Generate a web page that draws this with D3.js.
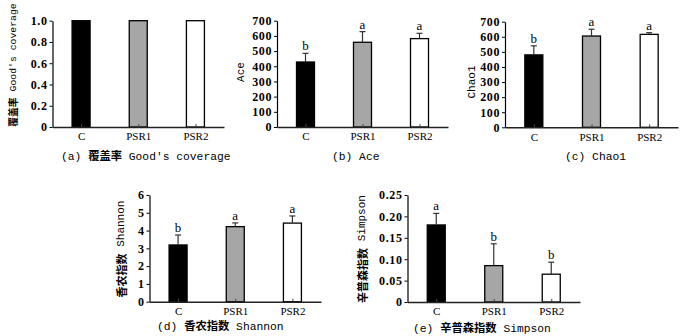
<!DOCTYPE html>
<html><head><meta charset="utf-8">
<script src="https://cdn.jsdelivr.net/npm/d3@7"></script>
<style>
html,body{margin:0;padding:0;background:#fff;}
svg{display:block;}
text{fill:#000;}
</style></head>
<body>
<svg id="chart" width="700" height="336"></svg>
<script>
const categories = ["C", "PSR1", "PSR2"];
const fills = ["#000000", "#a6a6a6", "#ffffff"];

const coverage = [1.0, 1.0, 1.0];
const coverageErr = [0, 0, 0];
const coverageTicks = [0, 0.2, 0.4, 0.6, 0.8, 1.0];

const ace = [428, 558, 582];
const aceErr = [57, 70, 35];
const aceLetters = ["b", "a", "a"];
const aceTicks = [0, 100, 200, 300, 400, 500, 600, 700];

const chao1 = [480, 605, 616];
const chao1Err = [60, 45, 11];
const chao1Letters = ["b", "a", "a"];
const chao1Ticks = [0, 100, 200, 300, 400, 500, 600, 700];

const shannon = [3.19, 4.22, 4.42];
const shannonErr = [0.56, 0.21, 0.40];
const shannonLetters = ["b", "a", "a"];
const shannonTicks = [0, 1, 2, 3, 4, 5, 6];

const simpson = [0.180, 0.085, 0.065];
const simpsonErr = [0.027, 0.051, 0.028];
const simpsonLetters = ["a", "b", "b"];
const simpsonTicks = [0, 0.05, 0.10, 0.15, 0.20, 0.25];

const panels = [
  {values: coverage, errs: coverageErr, letters: null, ticks: coverageTicks, fmt: d => d === 0 ? "0" : d3.format(".1f")(d),
   x0: 52.5, x1: 224, yTop: 20.7, yBase: 127, ytitle: "覆盖率 Good's coverage", ytx: 13, yty: 65, ytSize: 9.8,
   caption: "(a) 覆盖率 Good's coverage", cx0: 61, cy: 160},
  {values: ace, errs: aceErr, letters: aceLetters, ticks: aceTicks, fmt: d => String(d),
   x0: 277, x1: 448, yTop: 20.7, yBase: 127, ytitle: "Ace", ytx: 241, yty: 72, ytSize: 11,
   caption: "(b) Ace", cx0: 332, cy: 160},
  {values: chao1, errs: chao1Err, letters: chao1Letters, ticks: chao1Ticks, fmt: d => String(d),
   x0: 505, x1: 678, yTop: 21.7, yBase: 127.3, ytitle: "Chao1", ytx: 472, yty: 82, ytSize: 11,
   caption: "(c) Chao1", cx0: 565, cy: 160},
  {values: shannon, errs: shannonErr, letters: shannonLetters, ticks: shannonTicks, fmt: d => String(d),
   x0: 149.5, x1: 321, yTop: 195, yBase: 301.7, ytitle: "香农指数 Shannon", ytx: 121, yty: 249, ytSize: 11,
   caption: "(d) 香农指数 Shannon", cx0: 157, cy: 330},
  {values: simpson, errs: simpsonErr, letters: simpsonLetters, ticks: simpsonTicks, fmt: d => d === 0 ? "0" : d3.format(".2f")(d),
   x0: 407.5, x1: 580, yTop: 195, yBase: 302, ytitle: "辛普森指数 Simpson", ytx: 362, yty: 249, ytSize: 11,
   caption: "(e) 辛普森指数 Simpson", cx0: 413, cy: 332}
];

const svg = d3.select("#chart");
const barW = 18;
const MONO = "'Liberation Mono', 'DejaVu Sans Mono', monospace";
const CJK = "'Noto Sans CJK SC', sans-serif";
const SERIF = "'Liberation Serif', serif";

function mixedText(sel, str) {
  const parts = str.match(/[\u3400-\u9fff]+|[^\u3400-\u9fff]+/g);
  parts.forEach(s => {
    const isCjk = /[\u3400-\u9fff]/.test(s);
    sel.append("tspan")
      .attr("font-family", isCjk ? CJK : MONO)
      .attr("font-weight", isCjk ? 700 : 400)
      .attr("fill", "#000")
      .attr("xml:space", "preserve")
      .style("white-space", "pre")
      .text(s);
  });
}

panels.forEach(p => {
  const g = svg.append("g");
  const x = d3.scalePoint().domain(categories).range([p.x0, p.x1]).padding(0.5);
  const tmax = p.ticks[p.ticks.length - 1];
  const y = d3.scaleLinear().domain([0, tmax]).range([p.yBase, p.yTop]);

  g.selectAll("rect.bar").data(categories).join("rect")
    .attr("class", "bar")
    .attr("x", d => x(d) - barW / 2)
    .attr("y", (d, i) => y(p.values[i]))
    .attr("width", barW)
    .attr("height", (d, i) => p.yBase - y(p.values[i]))
    .attr("fill", (d, i) => fills[i])
    .attr("stroke", "#000").attr("stroke-width", 1.3);

  categories.forEach((c, i) => {
    if (!p.errs[i]) return;
    const cx = x(c), yt = y(p.values[i] + p.errs[i]), yb = y(p.values[i]);
    g.append("line").attr("x1", cx).attr("x2", cx).attr("y1", yb).attr("y2", yt).attr("stroke", "#333").attr("stroke-width", 1.2);
    g.append("line").attr("x1", cx - 3).attr("x2", cx + 3).attr("y1", yt).attr("y2", yt).attr("stroke", "#333").attr("stroke-width", 1.2);
    if (p.letters) {
      g.append("text").attr("x", cx).attr("y", yt - 3).attr("text-anchor", "middle")
        .attr("font-family", SERIF).attr("font-size", 13).attr("fill", "#000").text(p.letters[i]);
    }
  });

  const yAxis = d3.axisLeft(y).tickValues(p.ticks).tickFormat(p.fmt).tickSize(3).tickSizeOuter(0).tickPadding(2);
  const ya = g.append("g").attr("transform", `translate(${p.x0},0)`).call(yAxis);
  ya.select(".domain").attr("stroke", "#000").attr("stroke-width", 1.2);
  ya.selectAll(".tick line").attr("stroke", "#000");
  ya.selectAll(".tick text").attr("font-size", 12).attr("font-weight", "bold")
    .attr("font-family", SERIF).attr("fill", "#000").attr("letter-spacing", "0.6px");

  const xAxis = d3.axisBottom(x).tickSize(-3).tickSizeOuter(0).tickPadding(8);
  const xa = g.append("g").attr("transform", `translate(0,${p.yBase})`).call(xAxis);
  xa.select(".domain").attr("stroke", "#222").attr("stroke-width", 1.6);
  xa.selectAll(".tick line").attr("stroke", "#444");
  xa.selectAll(".tick text").attr("font-size", 11).attr("font-family", SERIF)
    .attr("fill", "#000").attr("dy", "0.71em").attr("y", 5.5);

  const yt = g.append("text")
    .attr("transform", `translate(${p.ytx},${p.yty}) rotate(-90)`)
    .attr("text-anchor", "middle").attr("dominant-baseline", "central")
    .attr("font-size", p.ytSize);
  mixedText(yt, p.ytitle);

  const cap = g.append("text").attr("x", p.cx0).attr("y", p.cy).attr("font-size", 11.3);
  mixedText(cap, p.caption);
});
</script>
</body></html>
